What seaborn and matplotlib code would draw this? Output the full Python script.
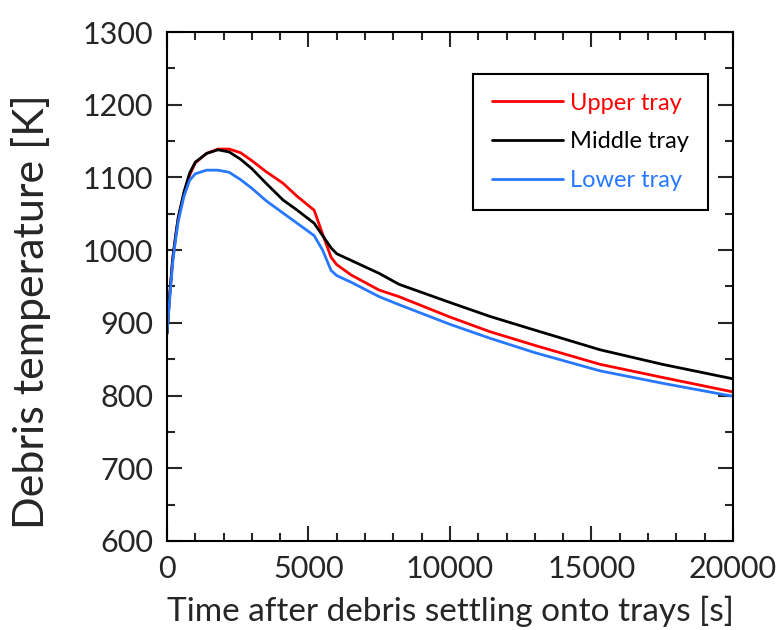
import numpy as np
import pandas as pd
import seaborn as sns
import matplotlib.pyplot as plt
from matplotlib.ticker import MultipleLocator

# time after settling [s]
time_s = [0, 100, 200, 300, 400, 600, 800, 1000, 1400, 1800, 2200, 2600, 3000, 3500,
          4100, 4600, 5200, 5500, 5800, 6000, 6500, 7500, 8200, 10000, 11400, 13000,
          15300, 17500, 20000]

upper = [885, 940, 987, 1018, 1045, 1078, 1103, 1120, 1133, 1139, 1139, 1134, 1123, 1108,
         1092, 1074, 1055, 1022, 990, 980, 966, 945, 936, 908, 888, 869,
         843, 825, 805]
middle = [885, 940, 987, 1018, 1045, 1080, 1106, 1121, 1133, 1138, 1135, 1125, 1112, 1092,
          1069, 1055, 1037, 1020, 1003, 995, 986, 968, 953, 928, 909, 890,
          863, 843, 823]
lower = [885, 935, 982, 1013, 1040, 1074, 1096, 1105, 1110, 1110, 1107, 1097, 1085, 1068,
         1051, 1037, 1020, 1000, 972, 965, 956, 936, 925, 898, 879, 859,
         834, 817, 799]

labels = ['Upper tray', 'Middle tray', 'Lower tray']
colors = ['#ff0000', '#000000', '#2878ff']

df = pd.concat([
    pd.DataFrame({'t': time_s, 'T': vals, 'tray': lab})
    for vals, lab in zip([upper, middle, lower], labels)
])

sns.set_style('ticks')
plt.rcParams['font.family'] = ['Lato', 'DejaVu Sans']

fig = plt.figure(figsize=(7.81, 6.30), dpi=100)
ax = fig.add_axes([0.2138, 0.1413, 0.7247, 0.8079])

sns.lineplot(data=df, x='t', y='T', hue='tray', palette=colors, hue_order=labels,
             linewidth=2.0, ax=ax, estimator=None)

ax.set_xlim(0, 20000)
ax.set_ylim(600, 1300)
ax.xaxis.set_major_locator(MultipleLocator(5000))
ax.xaxis.set_minor_locator(MultipleLocator(1000))
ax.yaxis.set_major_locator(MultipleLocator(100))
ax.yaxis.set_minor_locator(MultipleLocator(50))
ax.tick_params(which='both', direction='in', top=True, right=True, width=1.5,
               labelsize=22, pad=10)
ax.tick_params(which='major', length=11)
ax.tick_params(which='minor', length=6)
for sp in ax.spines.values():
    sp.set_linewidth(1.5)
    sp.set_color('black')

ax.set_xlabel('Time after debris settling onto trays [s]', fontsize=24, labelpad=9)
ax.set_ylabel('Debris temperature [K]', fontsize=31)
ax.yaxis.set_label_coords(-0.205, 0.45)

leg = ax.legend(loc='upper right', bbox_to_anchor=(0.956, 0.918), fontsize=17,
                labelcolor='linecolor', frameon=True, fancybox=False,
                edgecolor='black', handlelength=3.0, handletextpad=0.3,
                borderpad=0.8, labelspacing=0.75, borderaxespad=0)
leg.get_frame().set_linewidth(1.5)
leg.get_frame().set_alpha(1)
for h in leg.get_lines():
    h.set_linewidth(2.0)

fig.savefig('out.png', dpi=100)
plt.close(fig)
